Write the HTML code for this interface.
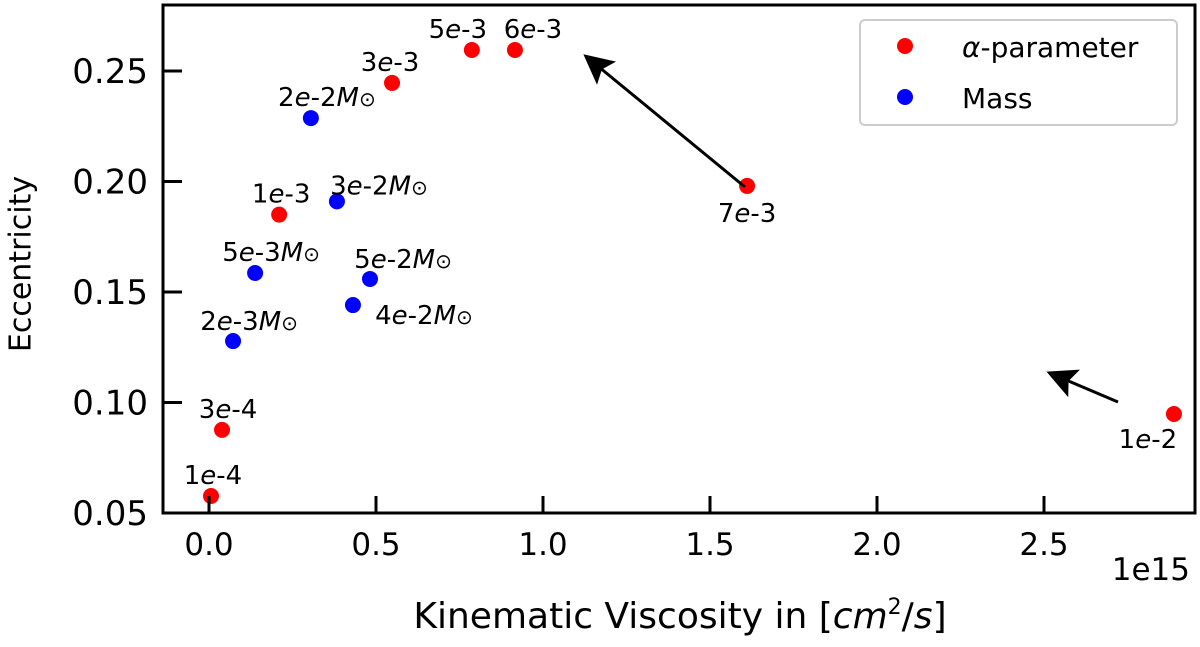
<!DOCTYPE html>
<html><head><meta charset="utf-8"><style>
body{margin:0;background:#fff;}
svg{display:block;font-family:"DejaVu Sans","Liberation Sans",sans-serif;}
</style></head><body>
<svg id="chart" width="1200" height="647">
<defs><marker id="ah" markerWidth="10" markerHeight="10" refX="8" refY="5" orient="auto"><path d="M0,0 L10,5 L0,10 L2,5 z" fill="#000"/></marker></defs>
<g id="marks"></g>
<rect x="163" y="5" width="1032" height="508" fill="none" stroke="#000" stroke-width="3"/>
<g id="axes"></g>
<line x1="745" y1="187" x2="588" y2="58" stroke="#000" stroke-width="3" marker-end="url(#ah)"/>
<line x1="1118" y1="402" x2="1052" y2="374" stroke="#000" stroke-width="3" marker-end="url(#ah)"/>
<g>
<rect x="860" y="20" width="317" height="105" rx="5" fill="#fff" stroke="#ccc" stroke-width="2"/>
<circle cx="905" cy="46" r="8" fill="#ff0000"/>
<text x="962" y="57" font-size="28"><tspan font-style="italic">α</tspan>-parameter</text>
<circle cx="905" cy="97" r="8" fill="#0000ff"/>
<text x="962" y="108" font-size="28">Mass</text>
</g>
<text x="22" y="264" font-size="30" transform="rotate(-90 22 264)" text-anchor="middle" dominant-baseline="middle">Eccentricity</text>
<text x="680" y="628" font-size="36" text-anchor="middle">Kinematic Viscosity in [<tspan font-style="italic">cm</tspan><tspan font-size="22" dy="-14">2</tspan><tspan dy="14">/</tspan><tspan font-style="italic">s</tspan>]</text>
<text x="1190" y="580" font-size="31" text-anchor="end">1e15</text>
</svg>
<script>
const alphaX=[0.006,0.039,0.21,0.548,0.787,0.916,1.611,2.889];
const alphaY=[0.0577,0.0876,0.185,0.2446,0.2595,0.2595,0.198,0.0948];
const alphaLabels=["1e-4","3e-4","1e-3","3e-3","5e-3","6e-3","7e-3","1e-2"];
const massX=[0.072,0.138,0.305,0.383,0.431,0.482];
const massY=[0.1278,0.1586,0.2287,0.191,0.1441,0.1559];
const massLabels=["2e-3","5e-3","2e-2","3e-2","4e-2","5e-2"];
const xTicks=[0,0.5,1.0,1.5,2.0,2.5];
const yTicks=[0.05,0.10,0.15,0.20,0.25];
const sx=v=>209+v*334, sy=v=>71+(0.25-v)*2210;
const NS="http://www.w3.org/2000/svg";
const marks=document.getElementById('marks'), axes=document.getElementById('axes');
function mk(t,a,p){const e=document.createElementNS(NS,t);for(const k in a)e.setAttribute(k,a[k]);p.appendChild(e);return e;}
const aOff=[[2,-12],[6,-12],[2,-12],[-2,-12],[-14,-12],[18,-12],[0,36],[-26,34]];
const mOff=[[16,-11],[16,-12],[16,-12],[42,-7],[71,19],[33,-11]];
alphaX.forEach((x,i)=>{
 const c=mk('circle',{cx:sx(x),cy:sy(alphaY[i]),r:8,fill:'#ff0000'},marks);
 
 
 const [p,q]=alphaLabels[i].split('e');
 const t=mk('text',{x:sx(x)+aOff[i][0],y:sy(alphaY[i])+aOff[i][1],'font-size':26,'text-anchor':'middle'},marks);
 t.innerHTML=p+'<tspan font-style="italic">e</tspan>'+q;
 
 
});
massX.forEach((x,i)=>{
 const c=mk('circle',{cx:sx(x),cy:sy(massY[i]),r:8,fill:'#0000ff'},marks);
 
 
 const [p,q]=massLabels[i].split('e');
 const t=mk('text',{x:sx(x)+mOff[i][0],y:sy(massY[i])+mOff[i][1],'font-size':26,'text-anchor':'middle'},marks);
 t.innerHTML=p+'<tspan font-style="italic">e</tspan>'+q+'<tspan font-style="italic">M</tspan><tspan font-size="20">⊙</tspan>';
 
 
});
xTicks.forEach(v=>{
 const l=mk('line',{x1:sx(v),x2:sx(v),y1:513,y2:496,stroke:'#000','stroke-width':3},axes);
 
 
 const t=mk('text',{x:sx(v),y:555,'font-size':31,'text-anchor':'middle'},axes);
 t.textContent=v.toFixed(1);
 
 
});
yTicks.forEach(v=>{
 const l=mk('line',{x1:163,x2:182,y1:sy(v),y2:sy(v),stroke:'#000','stroke-width':3},axes);
 
 
 const t=mk('text',{x:148,y:sy(v)+12,'font-size':34,'text-anchor':'end'},axes);
 t.textContent=v.toFixed(2);
 
 
});
</script>
</body></html>
